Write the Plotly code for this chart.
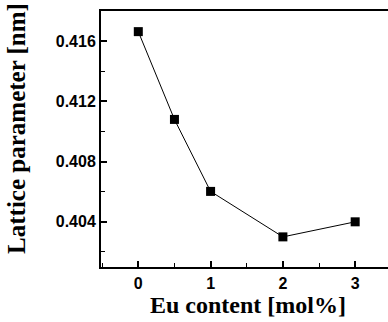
import plotly.graph_objects as go

eu_content = [0, 0.5, 1, 2, 3]
lattice_param = [0.41663, 0.4108, 0.40602, 0.4030, 0.4040]
x_title = "Eu content [mol%]"
y_title = "Lattice parameter [nm]"

fig = go.Figure()
fig.add_trace(go.Scatter(
    x=eu_content, y=lattice_param, mode="lines+markers",
    line=dict(color="black", width=1),
    marker=dict(symbol="square", size=9, color="black"),
    showlegend=False,
))

tick_font = dict(family="Liberation Sans", size=16, color="black", weight="bold")
fig.update_layout(
    width=388, height=322,
    margin=dict(l=101, r=0, t=11, b=55),
    paper_bgcolor="white", plot_bgcolor="white",
    xaxis=dict(
        range=[-0.516, 3.454], tick0=0, dtick=1,
        ticks="inside", ticklen=6, tickwidth=1.5, tickcolor="black",
        minor=dict(ticks="inside", dtick=0.5, ticklen=4, tickwidth=1, tickcolor="black"),
        showline=True, linecolor="black", linewidth=2, mirror=True,
        showgrid=False, zeroline=False, tickfont=tick_font, ticklabelstandoff=1,
    ),
    yaxis=dict(
        range=[0.401, 0.418], tick0=0.4, dtick=0.004, tickformat=".3f",
        ticks="inside", ticklen=6, tickwidth=1.5, tickcolor="black",
        minor=dict(ticks="inside", dtick=0.002, ticklen=4, tickwidth=1, tickcolor="black"),
        showline=True, linecolor="black", linewidth=2, mirror=False,
        showgrid=False, zeroline=False, tickfont=tick_font,
    ),
    annotations=[
        dict(text=y_title, xref="paper", yref="paper", x=-0.293, y=0.543,
             xanchor="center", yanchor="middle", textangle=-90, showarrow=False,
             font=dict(family="Liberation Serif", size=25, color="black", weight="bold")),
        dict(text=x_title, xref="paper", yref="paper", x=0.512, y=-0.150,
             xanchor="center", yanchor="middle", showarrow=False,
             font=dict(family="Liberation Serif", size=24, color="black", weight="bold")),
    ],
)
fig.write_html("out.html")
